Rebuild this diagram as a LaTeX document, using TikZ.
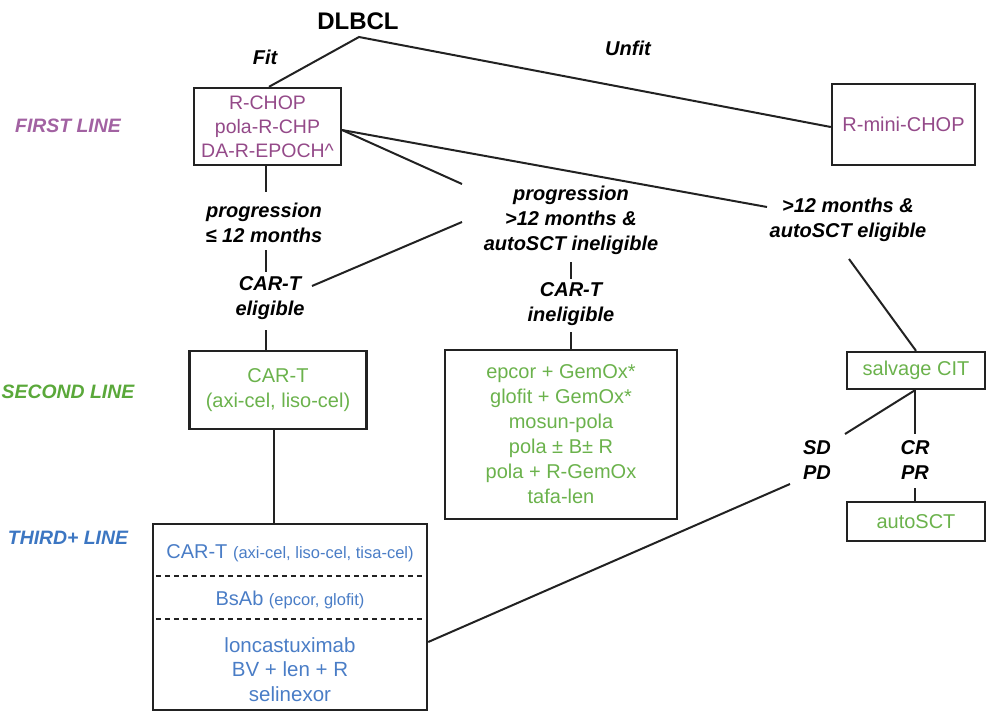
\documentclass[tikz,border=0pt]{standalone}
\usepackage{fontspec}
\setmainfont{Liberation Sans}
\definecolor{purp}{HTML}{944A89}
\definecolor{purpl}{HTML}{A262A2}
\definecolor{grn}{HTML}{6BB24C}
\definecolor{grnl}{HTML}{5AA83A}
\definecolor{blu}{HTML}{4A7DC6}
\definecolor{blul}{HTML}{3C76C2}
\definecolor{ln}{HTML}{222222}
\begin{document}
\begin{tikzpicture}[x=1pt,y=-1pt,
  box/.style={draw=ln, line width=2.4pt, inner sep=0pt, align=center},
  lbl/.style={font=\fontsize{20}{25}\selectfont\bfseries\itshape, align=center, inner sep=0pt},
  tier/.style={font=\fontsize{19.4}{23}\selectfont\bfseries\itshape, inner sep=0pt},
  txt/.style={font=\fontsize{20}{25}\selectfont, align=center, inner sep=0pt},
  sm/.style={font=\fontsize{16.5}{18}\selectfont},
  conn/.style={draw=ln, line width=2pt},
  dsh/.style={draw=ln, line width=2pt, dash pattern=on 5pt off 4pt}]
\useasboundingbox (0,0) rectangle (993,720);

% title and tier labels
\node[font=\fontsize{24}{28}\selectfont\bfseries, inner sep=0pt] (dlbcl) at (358,21) {DLBCL};
\coordinate (apex) at (359,37);
\node[lbl] (fit) at (265,57) {Fit};
\node[lbl] (unfit) at (628,48) {Unfit};
\node[tier, text=purpl] (l1) at (68,126) {FIRST LINE};
\node[tier, text=grnl] (l2) at (68,392) {SECOND LINE};
\node[tier, text=blul] (l3) at (68,538) {THIRD+ LINE};

% boxes
\node[box, txt, font=\fontsize{19.5}{24}\selectfont, text=purp, minimum width=147pt, minimum height=77pt] (first) at (267.5,126.5)
  {R-CHOP\\pola-R-CHP\\DA-R-EPOCH\textasciicircum};
\node[box, txt, text=purp, minimum width=143pt, minimum height=81pt] (mini) at (903.5,124.5) {R-mini-CHOP};
\node[box, txt, text=grn, minimum width=177pt, minimum height=78pt] (car2) at (278,390)
  {CAR-T\\(axi-cel, liso-cel)};
\node[box, txt, text=grn, minimum width=232pt, minimum height=169pt] (epc) at (561,434.5)
  {epcor + GemOx*\\glofit + GemOx*\\mosun-pola\\pola ± B± R\\pola + R-GemOx\\tafa-len};
\node[box, txt, text=grn, minimum width=138pt, minimum height=37pt] (salv) at (916,370.5) {salvage CIT};
\node[box, txt, text=grn, minimum width=138pt, minimum height=39pt] (auto) at (916,521.5) {autoSCT};
\node[box, minimum width=274pt, minimum height=186pt] (third) at (290,617) {};

% third box contents
\node[txt, text=blu] (t1) at (290,553) {CAR-T {\fontsize{16.5}{18}\selectfont (axi-cel, liso-cel, tisa-cel)}};
\node[txt, text=blu] (t2) at (290,600) {BsAb {\fontsize{16.5}{18}\selectfont (epcor, glofit)}};
\node[txt, font=\fontsize{20.5}{24.5}\selectfont, text=blu] (t3) at (290,669.5) {loncastuximab\\BV + len + R\\selinexor};
\draw[dsh] ([xshift=4pt]third.west |- 0,576) -- ([xshift=-4pt]third.east |- 0,576);
\draw[dsh] ([xshift=4pt]third.west |- 0,619) -- ([xshift=-4pt]third.east |- 0,619);

% decision labels
\node[lbl] (p1) at (264,222.5) {progression\\≤ 12 months};
\node[lbl] (e1) at (270,298.5) {CAR-T\\eligible};
\node[lbl] (p2) at (571,220.5) {progression\\>12 months \&\\autoSCT ineligible};
\node[lbl] (e2) at (571,304.5) {CAR-T\\ineligible};
\node[lbl] (p3) at (848,220) {>12 months \&\\autoSCT eligible};
\node[lbl] (sd) at (817,460.5) {SD\\PD};
\node[lbl] (cr) at (915,460.5) {CR\\PR};

% connector end points
\coordinate (p1t) at (266,192);
\coordinate (p1b) at (266,250);
\coordinate (e1t) at (266,272);
\coordinate (e1b) at (266,330);
\coordinate (e1r) at (312,286);
\coordinate (p2l) at (462,222);
\coordinate (p2tl) at (462,184);
\coordinate (p3l) at (767,207);
\coordinate (p3b) at (849,259);
\coordinate (p2b) at (571,262);
\coordinate (e2t) at (571,279);
\coordinate (e2b) at (571,332);
\coordinate (sdt) at (845,434);
\coordinate (crt) at (915,434);
\coordinate (crb) at (915,488);
\coordinate (sdb) at (790,484);
\coordinate (fr) at (342,130);

% connectors
\draw[conn] ([xshift=1.5pt]first.north) -- (apex) -- ([yshift=-2.5pt]mini.west);
\draw[conn] (fr) -- (p2tl);
\draw[conn] (fr) -- (p3l);
\draw[conn] (first.south -| p1t) -- (p1t);
\draw[conn] (p1b) -- (e1t);
\draw[conn] (e1r) -- (p2l);
\draw[conn] (e1b) -- (e1b |- car2.north);
\draw[conn] ([xshift=-4pt]car2.south) -- ([xshift=-4pt]car2.south |- third.north);
\draw[conn] (p2b) -- (e2t);
\draw[conn] (e2b) -- (e2b |- epc.north);
\draw[conn] (p3b) -- (salv.north);
\draw[conn] ([xshift=-1pt]salv.south) -- (sdt);
\draw[conn] ([xshift=-1pt]salv.south) -- (crt);
\draw[conn] (crb) -- (crb |- auto.north);
\draw[conn] (sdb) -- (third.east |- 0,642);
\end{tikzpicture}
\end{document}
